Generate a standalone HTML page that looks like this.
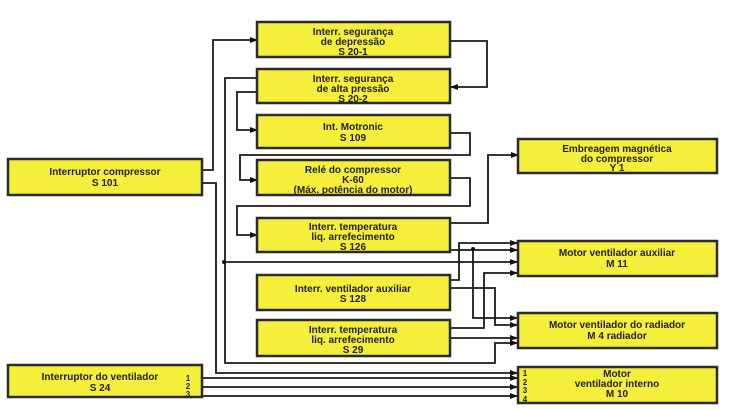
<!DOCTYPE html>
<html><head><meta charset="utf-8"><style>
body{margin:0;background:#fff}
svg{display:block}
text{font-family:"Liberation Sans",sans-serif;font-size:10px;font-weight:bold;fill:#222;text-anchor:middle}
.b{fill:#f5ee3a;stroke:#2a2a2a;stroke-width:2.5}
.l{fill:none;stroke:#1a1a1a;stroke-width:1.8}
</style></head><body>
<svg width="730" height="410" viewBox="0 0 730 410">
<defs><marker id="a" markerWidth="8" markerHeight="8" refX="7" refY="4" orient="auto" markerUnits="userSpaceOnUse"><path d="M0,1 L8,4 L0,7z" fill="#111"/></marker></defs>
<!-- connectors -->
<g class="l">
<path d="M202,170 H213 V40 H257" marker-end="url(#a)"/>
<path d="M202,183 H216 V373 H517" marker-end="url(#a)"/>
<path d="M450,41 H487 V87 H451" marker-end="url(#a)"/>
<path d="M257,78 H225 V363 H495 V343 H517" marker-end="url(#a)"/>
<path d="M257,92 H237 V130 H257" marker-end="url(#a)"/>
<path d="M450,133 H470 V155 H240 V180 H257" marker-end="url(#a)"/>
<path d="M450,178 H470 V206 H237 V235 H257" marker-end="url(#a)"/>
<path d="M450,223 H488 V155 H518" marker-end="url(#a)"/>
<path d="M450,250 H517" marker-end="url(#a)"/>
<path d="M473,248 V318 H517" marker-end="url(#a)"/>
<path d="M224,262 H517" marker-end="url(#a)"/>
<path d="M450,280 H459 V243 H517" marker-end="url(#a)"/>
<path d="M450,288 H495 V325 H517" marker-end="url(#a)"/>
<path d="M450,328 H484 V273 H517" marker-end="url(#a)"/>
<path d="M450,338 H517" marker-end="url(#a)"/>
<path d="M202,378 H517" marker-end="url(#a)"/>
<path d="M202,387 H517" marker-end="url(#a)"/>
<path d="M202,396 H517" marker-end="url(#a)"/>
</g>
<circle cx="224" cy="262" r="2" fill="#111"/>
<circle cx="473" cy="249" r="2" fill="#111"/>
<!-- boxes -->
<rect class="b" x="257" y="22" width="193" height="35"/>
<text x="353" y="35">Interr. segurança</text><text x="353" y="45">de depressão</text><text x="353" y="55">S 20-1</text>
<rect class="b" x="257" y="69" width="193" height="34"/>
<text x="353" y="82">Interr. segurança</text><text x="353" y="92">de alta pressão</text><text x="353" y="102">S 20-2</text>
<rect class="b" x="257" y="115" width="193" height="33"/>
<text x="353" y="130">Int. Motronic</text><text x="353" y="141">S 109</text>
<rect class="b" x="257" y="160" width="193" height="35"/>
<text x="353" y="173">Relé do compressor</text><text x="353" y="183">K-60</text><text x="353" y="193">(Máx. potência do motor)</text>
<rect class="b" x="257" y="218" width="193" height="34"/>
<text x="353" y="230">Interr. temperatura</text><text x="353" y="240">liq. arrefecimento</text><text x="353" y="250">S 126</text>
<rect class="b" x="257" y="275" width="193" height="35"/>
<text x="353" y="292">Interr. ventilador auxiliar</text><text x="353" y="302">S 128</text>
<rect class="b" x="257" y="320" width="193" height="36"/>
<text x="353" y="333">Interr. temperatura</text><text x="353" y="343">liq. arrefecimento</text><text x="353" y="353">S 29</text>
<rect class="b" x="518" y="139" width="199" height="34"/>
<text x="617" y="152">Embreagem magnética</text><text x="617" y="162">do compressor</text><text x="617" y="171">Y 1</text>
<rect class="b" x="518" y="241" width="199" height="35"/>
<text x="617" y="256">Motor ventilador auxiliar</text><text x="617" y="267">M 11</text>
<rect class="b" x="518" y="313" width="199" height="35"/>
<text x="617" y="328">Motor ventilador do radiador</text><text x="617" y="339">M 4 radiador</text>
<rect class="b" x="518" y="367" width="199" height="36"/>
<text x="617" y="377">Motor</text><text x="617" y="387">ventilador interno</text><text x="617" y="397">M 10</text>
<text x="525" y="376" style="font-size:8px">1</text><text x="525" y="385" style="font-size:8px">2</text><text x="525" y="393" style="font-size:8px">3</text><text x="525" y="402" style="font-size:8px">4</text>
<rect class="b" x="8" y="159" width="194" height="36"/>
<text x="105" y="175">Interruptor compressor</text><text x="105" y="186">S 101</text>
<rect class="b" x="8" y="365" width="194" height="32"/>
<text x="100" y="380">Interruptor do ventilador</text><text x="100" y="391">S 24</text>
<text x="188" y="381" style="font-size:8px">1</text><text x="188" y="389" style="font-size:8px">2</text><text x="188" y="397" style="font-size:8px">3</text>
</svg>
</body></html>
